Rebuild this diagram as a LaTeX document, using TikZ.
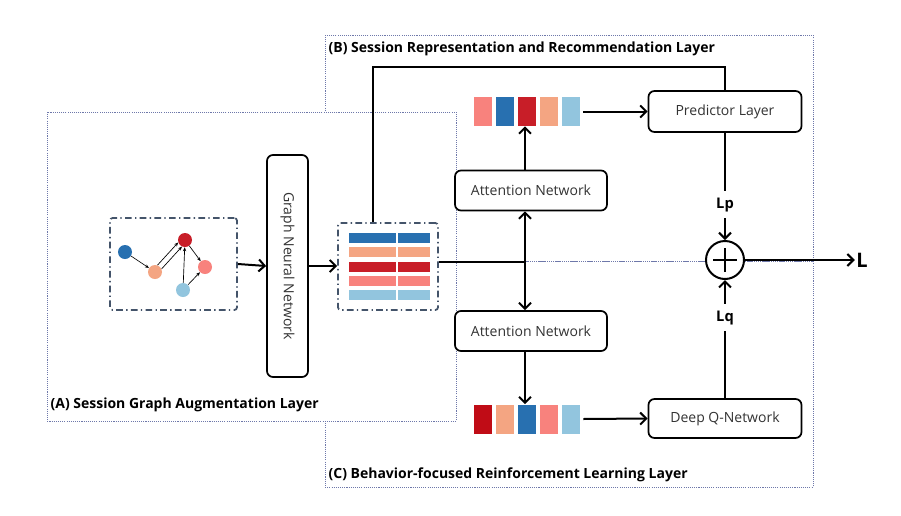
\documentclass[tikz,border=0pt]{standalone}
\usepackage{fontspec}
\setmainfont{Open Sans}
\usepackage{tikz}
\usetikzlibrary{arrows.meta,positioning}
\definecolor{itemblue}{RGB}{40,112,176}
\definecolor{itemsalmon}{RGB}{244,165,130}
\definecolor{itemred}{RGB}{200,30,40}
\definecolor{itemdark}{RGB}{192,12,22}
\definecolor{itempink}{RGB}{248,130,125}
\definecolor{itemlight}{RGB}{146,197,222}
\definecolor{framegray}{RGB}{68,84,106}
\definecolor{layerblue}{RGB}{110,120,170}

\begin{document}
\begin{tikzpicture}[x=0.75pt, y=-0.75pt,
    font=\fontsize{10.5}{13}\selectfont,
    blk/.style={rectangle, rounded corners=4.5pt, draw, line width=1.3pt, text=black!80,
                fill=white, minimum width=#1, minimum height=30pt, inner sep=2pt},
    blk/.default=114pt,
    frame/.style={draw=framegray, line width=1.3pt, rounded corners=2pt,
                  dash pattern=on 5pt off 2.5pt on 1pt off 2.5pt},
    layer/.style={draw=layerblue, line width=0.7pt, dash pattern=on 0.8pt off 0.8pt},
    ttl/.style={font=\fontsize{10.5}{13}\selectfont\bfseries, inner sep=1pt, anchor=west},
    cell/.style={rectangle, minimum width=13.5pt, minimum height=21.75pt, inner sep=0pt},
    bar/.style={rectangle, minimum width=60.75pt, minimum height=7.5pt, inner sep=0pt},
    dot/.style={circle, minimum size=10.5pt, inner sep=0pt},
    gedge/.style={-{Stealth[length=3pt,width=2.5pt]}, line width=0.5pt},
    arr/.style={-{Straight Barb[length=4.5pt,width=9pt]}, line width=1.5pt},
    arr2/.style={{Straight Barb[length=4.5pt,width=9pt]}-{Straight Barb[length=4.5pt,width=9pt]}, line width=1.5pt},
    plain/.style={line width=1.5pt},
    lbl/.style={fill=white, font=\fontsize{11}{13}\selectfont\bfseries, inner sep=1pt, minimum height=20pt},
    sumnode/.style={circle, draw, line width=1.5pt, minimum size=28.5pt, inner sep=0pt, fill=white,
      path picture={\draw[line width=1.5pt]
        ([xshift=-9pt]path picture bounding box.center) -- ([xshift=9pt]path picture bounding box.center)
        ([yshift=-9pt]path picture bounding box.center) -- ([yshift=9pt]path picture bounding box.center);}},
  ]
  \useasboundingbox (0,0) rectangle (901,515);

  % layers
  \draw[layer] (325,35) rectangle (813,261);
  \draw[layer] (325,261) rectangle (813,487);
  \draw[layer, fill=white] (47,112) rectangle (456,421);
  \node[ttl] (ttlA) at (49,405) {(A) Session Graph Augmentation Layer};
  \node[ttl] (ttlB) at (327,49) {(B) Session Representation and Recommendation Layer};
  \node[ttl] (ttlC) at (327,475) {(C) Behavior-focused Reinforcement Learning Layer};

  % session graph
  \node[frame, minimum width=95.25pt, minimum height=69pt] (graph) at (173.5,264) {};
  \node[dot, fill=itemblue] (gb) at (125,252) {};
  \node[dot, fill=itemsalmon] (gs) at (155,272) {};
  \node[dot, fill=itemred] (gr) at (185,240) {};
  \node[dot, fill=itempink] (gp) at (205,267) {};
  \node[dot, fill=itemlight] (gl) at (183,290) {};
  \draw[gedge] (gb) -- (gs);
  \draw[gedge] (gs.70) -- (gr.200);
  \draw[gedge] (gs.25) -- (gr.245);
  \draw[gedge] (gl) -- (gr);
  \draw[gedge] (gr) -- (gp);
  \draw[gedge] (gl) -- (gp);

  \node[blk=166.5pt, minimum height=30.75pt, rotate=-90] (gnn) at (287.5,266) {Graph Neural Network};

  % item embeddings
  \node[frame, minimum width=75pt, minimum height=65.25pt] (emb) at (388,266.5) {};
  \foreach \c [count=\i] in {itemblue,itemsalmon,itemred,itempink,itemlight}
    \node[bar, fill=\c] (bar\i) at (389.5,{223.75+14.25*\i}) {};
  \coordinate (div) at (397,0);
  \draw[white, line width=0.9pt] (bar1.north -| div) -- (bar5.south -| div);

  \draw[arr] (graph.east) -- (gnn.south);
  \draw[arr] (gnn.north) -- (emb.west |- gnn.north);

  % attention + vectors
  \node[blk] (att1) at (531,190.5) {Attention Network};
  \node[blk] (att2) at (531,331) {Attention Network};
  \foreach \c [count=\i] in {itempink,itemblue,itemred,itemsalmon,itemlight}
    \node[cell, fill=\c] (top\i) at ({461+22*\i},111.5) {};
  \foreach \c [count=\i] in {itemdark,itemsalmon,itemblue,itempink,itemlight}
    \node[cell, fill=\c] (bot\i) at ({461+22*\i},419) {};

  \node[blk=114.75pt, minimum height=30.75pt] (pred) at (725,111.5) {Predictor Layer};
  \node[blk=114.75pt, minimum height=29.25pt] (dqn) at (725,418.5) {Deep Q-Network};
  \node[sumnode] (sum) at (725,260) {};
  \node[font=\fontsize{15}{17}\selectfont\bfseries, inner sep=1pt] (out) at (862,260) {L};

  \coordinate (mid) at (525,262);
  \coordinate (fb) at (373,67);
  \draw[plain] (emb.north -| fb) -- (fb) -| (pred.north);
  \draw[plain] (emb.east |- mid) -- (mid);
  \draw[arr2] (att1.south -| mid) -- (att2.north -| mid);
  \draw[arr] (att1.north -| mid) -- (top3.south -| mid);
  \draw[arr] (att2.south -| mid) -- (bot3.north -| mid);
  \draw[arr] ([xshift=2.25pt]top5.east) -- (pred.west);
  \draw[arr] ([xshift=2.25pt]bot5.east) -- (dqn.west);

  \draw[arr] (pred) -- node[lbl, pos=0.67] (lp) {Lp} (sum);
  \draw[arr] (dqn) -- node[lbl, pos=0.68] (lq) {Lq} (sum);
  \draw[arr] (sum) -- (out);
\end{tikzpicture}
\end{document}
